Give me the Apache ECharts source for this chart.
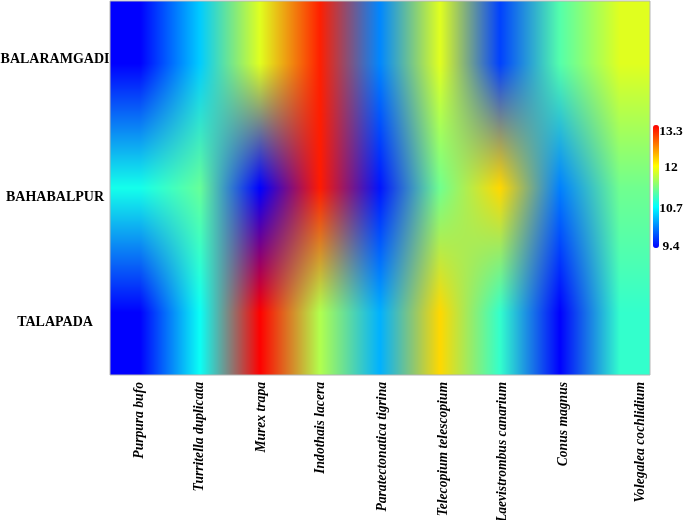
<!DOCTYPE html>
<html><head><meta charset="utf-8">
<style>
html,body{margin:0;padding:0;background:#fff;}
#heat{position:absolute;left:110px;top:1px;width:540px;height:374px;overflow:hidden;}
#smooth{position:absolute;left:110px;top:1px;width:540px;height:374px;}
#axes{position:absolute;left:0;top:0;width:685px;height:520px;}
</style>
<script src="https://cdn.jsdelivr.net/npm/echarts@6/dist/echarts.min.js"></script>
</head><body>
<div id="heat"></div>
<canvas id="smooth" width="540" height="374"></canvas>
<div id="axes"></div>
<script>
const species=['Purpura bufo','Turritella duplicata','Murex trapa','Indothais lacera','Paratectonatica tigrina','Telecopium telescopium','Laevistrombus canarium','Conus magnus','Volegalea cochlidium'];
const sites=['BALARAMGADI','BAHABALPUR','TALAPADA'];
const balaramgadi=[9.4,10.44,11.84,13.14,10.09,11.84,9.73,11.13,11.84];
const bahabalpur=[10.8,11.22,9.4,13.17,9.5,11.27,12.2,10.05,11.27];
const talapada=[9.4,10.75,13.3,11.6,10.3,12.2,10.96,9.4,10.96];
const colorTicks=[9.4,10.7,12,13.3];
const palette=['#0000ff','#00ffff','#ffff00','#ff0000'];

const rowsData=[balaramgadi,bahabalpur,talapada];
const cells=[];
rowsData.forEach((r,y)=>r.forEach((v,x)=>cells.push([x,y,v])));
const vMin=colorTicks[0],vMax=colorTicks[colorTicks.length-1];
const plot={left:110,top:1,width:540,height:374,outerBoundsMode:'none'};

const heat=echarts.init(document.getElementById('heat'),null,{renderer:'canvas'});
heat.setOption({animation:false,
 grid:{left:0,top:0,right:0,bottom:0,outerBoundsMode:'none'},
 xAxis:{type:'category',data:species,show:false},
 yAxis:{type:'category',data:sites,inverse:true,show:false},
 visualMap:{show:false,min:vMin,max:vMax,inRange:{color:palette}},
 series:[{type:'heatmap',data:cells,itemStyle:{borderWidth:0}}]
});

// The library paints one flat cell per value; this step scales that picture smoothly,
// the way a browser scales a small image, without the banding of its fixed-point scaler.
function blend(){
  const src=document.querySelector('#heat canvas');
  const nx=species.length,ny=sites.length;
  const tiny=document.createElement('canvas');
  tiny.width=nx;tiny.height=ny;
  const t=tiny.getContext('2d',{willReadFrequently:true});
  t.imageSmoothingEnabled=false;
  t.drawImage(src,0,0,nx,ny);
  const px=t.getImageData(0,0,nx,ny).data;
  const out=document.getElementById('smooth').getContext('2d');
  const W=out.canvas.width,H=out.canvas.height;
  const img=out.createImageData(W,H);
  const clamp=(v,m)=>Math.max(0,Math.min(m,v));
  for(let j=0;j<H;j++){
    const fy=clamp((j+0.5)/H*ny-0.5,ny-1),y0=Math.floor(fy),y1=Math.min(ny-1,y0+1),ty=fy-y0;
    for(let i=0;i<W;i++){
      const fx=clamp((i+0.5)/W*nx-0.5,nx-1),x0=Math.floor(fx),x1=Math.min(nx-1,x0+1),tx=fx-x0;
      const o=(j*W+i)*4;
      for(let c=0;c<3;c++){
        const a=px[(y0*nx+x0)*4+c]*(1-tx)+px[(y0*nx+x1)*4+c]*tx;
        const b=px[(y1*nx+x0)*4+c]*(1-tx)+px[(y1*nx+x1)*4+c]*tx;
        img.data[o+c]=a*(1-ty)+b*ty;
      }
      img.data[o+3]=255;
    }
  }
  out.putImageData(img,0,0);
}
blend();
heat.on('finished',blend);

const serif='"Liberation Serif","Times New Roman",serif';
const xShift=[-1,-1,1,0,2,3,2,3,20], yShift=[-3.5,9,9.5], cShift=[-1,2,2,7];
const pad=(d)=>d>=0?[d*2,0,0,0]:[0,0,-d*2,0];
const xRich={},yRich={},cRich={};
species.forEach((s,i)=>{xRich['s'+i]={fontFamily:serif,fontWeight:'bold',fontStyle:'italic',fontSize:13.6,color:'#000',padding:pad(xShift[i])};});
sites.forEach((s,i)=>{yRich['r'+i]={fontFamily:serif,fontWeight:'bold',fontSize:14,color:'#000',padding:pad(yShift[i])};});
colorTicks.forEach((s,i)=>{cRich['c'+i]={fontFamily:serif,fontWeight:'bold',fontSize:13.5,color:'#000',padding:pad(cShift[i])};});

const axes=echarts.init(document.getElementById('axes'),null,{renderer:'canvas'});
axes.setOption({animation:false,
 grid:[Object.assign({show:true,borderColor:'#b5b5b5',borderWidth:1,backgroundColor:'transparent'},plot),
       {left:653,top:125,width:6,height:123,outerBoundsMode:'none'}],
 xAxis:[{type:'category',data:species,gridIndex:0,axisLine:{show:false},axisTick:{show:false},splitLine:{show:false},
   axisLabel:{rotate:90,margin:7,interval:0,formatter:(v)=>`{s${species.indexOf(v)}|${v}}`,rich:xRich}},
   {type:'value',gridIndex:1,show:false}],
 yAxis:[{type:'category',data:sites,inverse:true,gridIndex:0,axisLine:{show:false},axisTick:{show:false},splitLine:{show:false},
   axisLabel:{margin:55,align:'center',formatter:(v)=>`{r${sites.indexOf(v)}|${v}}`,rich:yRich}},
   {type:'value',gridIndex:1,position:'right',min:vMin,max:vMax,splitLine:{show:false},axisLine:{show:false},axisTick:{show:false},
    axisLabel:{customValues:colorTicks,margin:12,align:'center',formatter:(v)=>`{c${colorTicks.indexOf(v)}|${v}}`,rich:cRich}}],
 visualMap:{show:true,seriesIndex:0,min:vMin,max:vMax,left:653,top:125,itemWidth:6,itemHeight:123,text:null,showLabel:false,calculable:false,padding:0,inRange:{color:palette}},
 series:[{type:'heatmap',xAxisIndex:0,yAxisIndex:0,data:cells,itemStyle:{opacity:0},silent:true}]
});
</script>
</body></html>
